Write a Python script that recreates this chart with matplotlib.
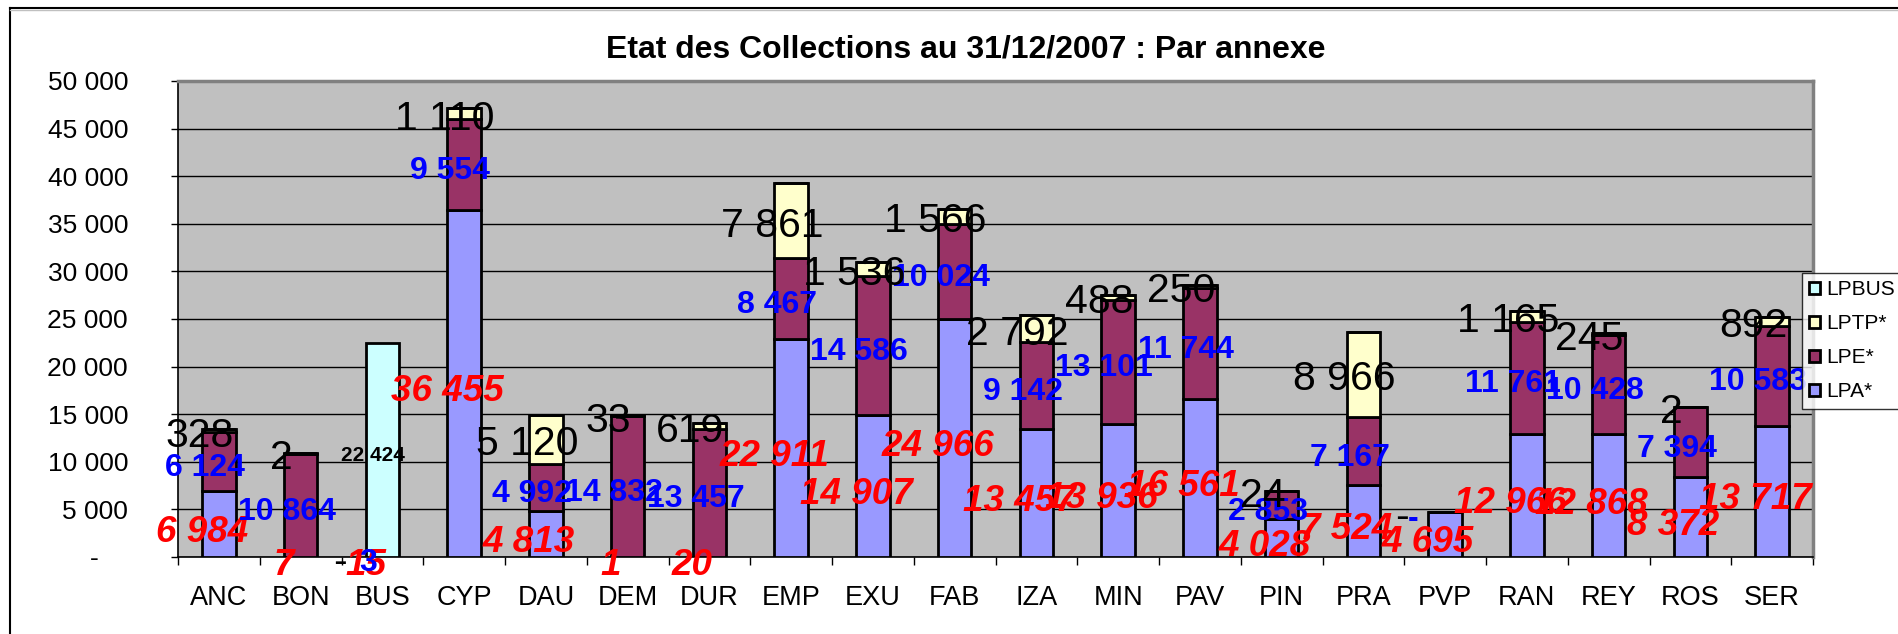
import matplotlib.pyplot as plt
import numpy as np
from matplotlib.lines import Line2D

plt.rcParams['font.family'] = ['Liberation Sans', 'DejaVu Sans']

# Collections per annexe at 31/12/2007
annexes = ['ANC', 'BON', 'BUS', 'CYP', 'DAU', 'DEM', 'DUR', 'EMP', 'EXU', 'FAB',
           'IZA', 'MIN', 'PAV', 'PIN', 'PRA', 'PVP', 'RAN', 'REY', 'ROS', 'SER']
lpa = [6984, 7, 15, 36455, 4813, 1, 20, 22911, 14907, 24966,
       13457, 13936, 16561, 4028, 7524, 4695, 12966, 12868, 8372, 13717]
lpe = [6124, 10864, 3, 9554, 4992, 14832, 13457, 8467, 14586, 10024,
       9142, 13101, 11744, 2853, 7167, 0, 11761, 10428, 7394, 10583]
lptp = [328, 2, 0, 1110, 5120, 33, 619, 7861, 1536, 1566,
        2792, 488, 250, 24, 8966, 0, 1165, 245, 2, 892]
lpbus = [0, 0, 22424, 0, 0, 0, 0, 0, 0, 0,
         0, 0, 0, 0, 0, 0, 0, 0, 0, 0]

yticks = list(range(0, 50001, 5000))


def fmt(v):
    # excel accounting style: space as thousands separator, dash for zero
    if v == 0:
        return '-\u2007\u2007'
    return f'{v:,}'.replace(',', ' ')


fig = plt.figure(figsize=(18.99, 6.34), dpi=100)
W, H = 1899, 634
ax = fig.add_axes([178 / W, (H - 557) / H, (1813 - 178) / W, (557 - 81) / H])
ax.set_facecolor('#C0C0C0')

x = np.arange(len(annexes))
width = 0.41
series = [
    ('LPA*', lpa, '#9999FF', dict(color='#FF0000', fontsize=26.5, fontweight='bold', fontstyle='italic'), -12.2, -12.8),
    ('LPE*', lpe, '#993366', dict(color='#0000FF', fontsize=23, fontweight='bold'), -10.0, -10.4),
    ('LPTP*', lptp, '#FFFFCC', dict(color='black', fontsize=29.5), -13.7, -11.5),
    ('LPBUS', lpbus, '#CCFFFF', dict(color='black', fontsize=15, fontweight='bold'), -6.5, -7.6),
]

bottom = np.zeros(len(annexes))
handles = []
labels_store = []
for name, vals, col, style, dx, dy in series:
    vals = np.array(vals, dtype=float)
    b = ax.bar(x, vals, width, bottom=bottom, color=col, edgecolor='black',
               linewidth=2, label=name, zorder=3)
    handles.append(b)
    for i, v in enumerate(vals):
        if name == 'LPBUS' and v == 0:
            continue
        labels_store.append((x[i], bottom[i] + v / 2, fmt(int(v)), style, dx, dy))
    bottom = bottom + vals

for xi, yi, txt, style, dx, dy in labels_store:
    ax.annotate(txt, (xi, yi), xytext=(dx, dy), textcoords='offset points',
                ha='center', va='baseline', zorder=5, annotation_clip=False, **style)

ax.set_xlim(-0.5, len(annexes) - 0.5)
ax.set_ylim(0, 50000)
ax.set_yticks(yticks)
ax.set_yticklabels([fmt(v) for v in yticks], fontsize=19)
ax.set_xticks(x)
ax.set_xticklabels(annexes, fontsize=19.5)
ax.set_xticks(np.arange(len(annexes) + 1) - 0.5, minor=True)
ax.tick_params(axis='x', which='major', length=0, pad=20)
ax.tick_params(axis='x', which='minor', length=6, width=1, direction='out')
ax.tick_params(axis='y', length=5, width=1, direction='out', pad=31)
ax.yaxis.grid(True, color='black', linewidth=1, zorder=1)
ax.set_axisbelow(True)

for s in ['left', 'bottom']:
    ax.spines[s].set_color('black')
    ax.spines[s].set_linewidth(1.2)
for s in ['top', 'right']:
    ax.spines[s].set_color('#808080')
    ax.spines[s].set_linewidth(2.5)

fig.text(966 / W, 1 - 49 / H, 'Etat des Collections au 31/12/2007 : Par annexe',
         ha='center', va='center', fontsize=23, fontweight='bold')

leg = fig.legend(handles[::-1], [h.get_label() for h in handles[::-1]],
                 loc='upper left', bbox_to_anchor=(1802 / W, 1 - 273 / H),
                 fontsize=15, frameon=True, fancybox=False, edgecolor='black',
                 handlelength=0.5, handleheight=0.5, handletextpad=0.3,
                 labelspacing=0.72, borderpad=0.35, borderaxespad=0)
leg.get_frame().set_linewidth(1)

# outer chart border
fig.add_artist(Line2D([10 / W, 10 / W], [0, 1 - 8 / H], color='black', lw=1.5, transform=fig.transFigure))
fig.add_artist(Line2D([10 / W, 1], [1 - 8 / H, 1 - 8 / H], color='black', lw=1.5, transform=fig.transFigure))
fig.add_artist(Line2D([10 / W, 1], [1 - 10 / H, 1 - 10 / H], color='#C0C0C0', lw=1, transform=fig.transFigure))

fig.savefig('out.png', dpi=100)
